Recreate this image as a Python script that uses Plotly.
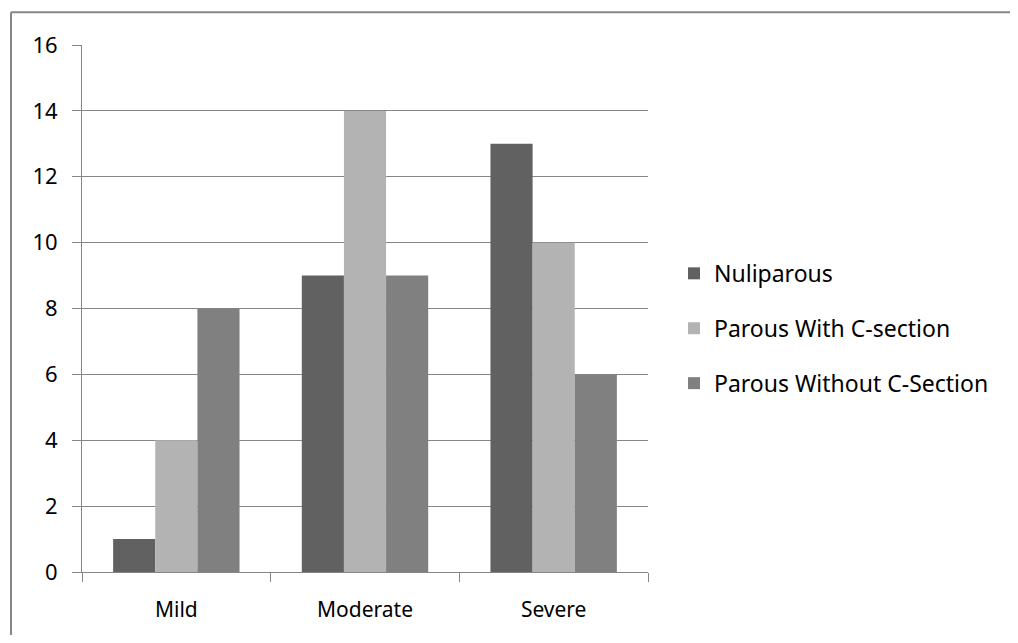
import plotly.graph_objects as go

categories = ["Mild", "Moderate", "Severe"]
nuliparous = [1, 9, 13]
parous_with_cs = [4, 14, 10]
parous_without_cs = [8, 9, 6]
series_names = ["Nuliparous", "Parous With C-section", "Parous Without C-Section"]
colors = ["#616161", "#b3b3b3", "#808080"]
y_ticks = [0, 2, 4, 6, 8, 10, 12, 14, 16]

FONT = "Noto Sans"
OFF = 8  # page body margin offset
W, H = 1018 - 2 * OFF, 643 - 2 * OFF
L, T = 82 - OFF, 45 - OFF
R = W - (648 - OFF)
B = H - (575 - OFF)
pw = W - L - R
ph = H - T - B

fig = go.Figure()
for i, (name, vals) in enumerate(zip(series_names, [nuliparous, parous_with_cs, parous_without_cs])):
    fig.add_trace(go.Bar(
        x=categories, y=vals, name=name,
        marker=dict(color=colors[i], line=dict(width=0)),
        legendgroup=f"g{i}",
    ))

def px_to_paper_x(px):
    return (px - OFF - L) / pw

def px_to_paper_y(py):
    return (H - B - (py - OFF)) / ph

fig.update_layout(
    width=W, height=H,
    margin=dict(l=L, r=R, t=T, b=B),
    paper_bgcolor="white", plot_bgcolor="white",
    barmode="group", bargap=0.33, bargroupgap=0,
    font=dict(family=FONT, size=21, color="#000000"),
    legend=dict(
        x=px_to_paper_x(674), xanchor="left",
        y=px_to_paper_y(330), yanchor="middle",
        font=dict(family=FONT, size=23, color="#000000"),
        tracegroupgap=22, bgcolor="rgba(0,0,0,0)",
        itemclick=False,
    ),
    showlegend=True,
    xaxis=dict(
        showgrid=False, showline=True, linecolor="#868686", linewidth=1,
        ticks="outside", tickson="boundaries", ticklen=9, tickcolor="#868686",
        ticklabelstandoff=19,
        tickfont=dict(family=FONT, size=21, color="#000000"),
    ),
    yaxis=dict(
        range=[0, 16], tickvals=y_ticks, showgrid=True, gridcolor="#868686", gridwidth=1,
        showline=True, linecolor="#868686", linewidth=1, zeroline=False,
        ticks="outside", ticklen=9, tickcolor="#868686",
        ticklabelstandoff=10,
        tickfont=dict(family=FONT, size=22, color="#000000"),
    ),
    shapes=[
        dict(type="line", xref="paper", yref="paper",
             x0=px_to_paper_x(11), x1=px_to_paper_x(1030),
             y0=px_to_paper_y(12), y1=px_to_paper_y(12),
             line=dict(color="#868686", width=2)),
        dict(type="line", xref="paper", yref="paper",
             x0=px_to_paper_x(11), x1=px_to_paper_x(11),
             y0=px_to_paper_y(12), y1=px_to_paper_y(660),
             line=dict(color="#868686", width=2)),
    ],
)

fig.write_html("out.html")
